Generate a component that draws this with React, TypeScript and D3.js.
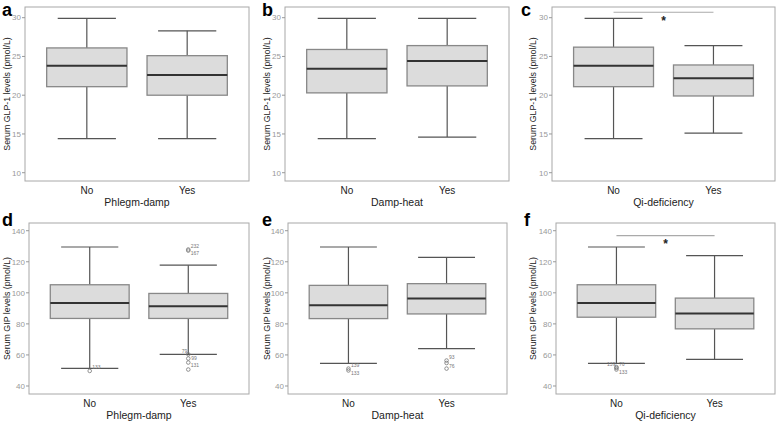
import React from "react";
import * as d3 from "d3";

// ---------- data ----------
const groups = ["No", "Yes"];
// [min, q1, median, q3, max]
const glp1PhlegmDamp = [
  [14.4, 21.1, 23.8, 26.1, 29.9],
  [14.4, 20.0, 22.6, 25.1, 28.3],
];
const glp1DampHeat = [
  [14.4, 20.3, 23.4, 25.9, 29.9],
  [14.6, 21.2, 24.4, 26.4, 29.9],
];
const glp1QiDeficiency = [
  [14.4, 21.1, 23.8, 26.2, 29.9],
  [15.1, 19.9, 22.2, 23.9, 26.4],
];
const gipPhlegmDamp = [
  [51.4, 83.5, 93.4, 105.2, 129.5],
  [60.4, 83.5, 91.4, 99.6, 117.8],
];
const gipDampHeat = [
  [54.6, 83.4, 92.0, 104.8, 129.5],
  [64.0, 86.4, 96.4, 105.9, 122.8],
];
const gipQiDeficiency = [
  [54.6, 84.3, 93.4, 105.2, 129.5],
  [57.2, 76.8, 86.7, 96.6, 123.9],
];

const gipPhlegmDampOutliers = [
  { group: "No", value: 49.7, label: "133", side: "ur" },
  { group: "Yes", value: 127.9, label: "232", side: "ur" },
  { group: "Yes", value: 127.2, label: "167", side: "dr" },
  { group: "Yes", value: 60.4, label: "79", side: "ul" },
  { group: "Yes", value: 57.7, label: "99", side: "r" },
  { group: "Yes", value: 55.1, label: "131", side: "dr" },
  { group: "Yes", value: 50.6, label: "", side: "r" },
];
const gipDampHeatOutliers = [
  { group: "No", value: 51.2, label: "139", side: "ur" },
  { group: "No", value: 50.0, label: "133", side: "dr" },
  { group: "Yes", value: 56.4, label: "93", side: "ur" },
  { group: "Yes", value: 54.8, label: "76", side: "dr" },
  { group: "Yes", value: 51.2, label: "", side: "r" },
];
const gipQiDeficiencyOutliers = [
  { group: "No", value: 52.2, label: "139", side: "ul" },
  { group: "No", value: 51.6, label: "76", side: "ur" },
  { group: "No", value: 50.6, label: "133", side: "dr" },
];

const glpTicks = [10, 15, 20, 25, 30];
const gipTicks = [40, 60, 80, 100, 120, 140];

const glpTitle = "Serum GLP-1 levels (pmol/L)";
const gipTitle = "Serum GIP levels (pmol/L)";

const sigQiGlp = { value: 30.7, starValue: 29.9 };
const sigQiGip = { value: 136.8, starValue: 132.9 };

// ---------- layout ----------
const rows = [
  { top: 7, bottom: 181, domain: [8.93, 31.38], ticks: glpTicks, title: glpTitle, letterY: 15.5 },
  { top: 223, bottom: 394, domain: [34.84, 144.97], ticks: gipTicks, title: gipTitle, letterY: 226 },
];
const frames = [
  [[25, 249], [285, 509], [552, 775]],
  [[29, 249], [288, 507], [556, 775]],
];
const letterX = [
  [2, 262, 521],
  [2, 262, 524],
];
const yLabelX = [7, 266.5, 533];

const panels = [
  { letter: "a", row: 0, col: 0, stats: glp1PhlegmDamp, outliers: [], xTitle: "Phlegm-damp", sig: null },
  { letter: "b", row: 0, col: 1, stats: glp1DampHeat, outliers: [], xTitle: "Damp-heat", sig: null },
  { letter: "c", row: 0, col: 2, stats: glp1QiDeficiency, outliers: [], xTitle: "Qi-deficiency", sig: sigQiGlp },
  { letter: "d", row: 1, col: 0, stats: gipPhlegmDamp, outliers: gipPhlegmDampOutliers, xTitle: "Phlegm-damp", sig: null },
  { letter: "e", row: 1, col: 1, stats: gipDampHeat, outliers: gipDampHeatOutliers, xTitle: "Damp-heat", sig: null },
  { letter: "f", row: 1, col: 2, stats: gipQiDeficiency, outliers: gipQiDeficiencyOutliers, xTitle: "Qi-deficiency", sig: sigQiGip },
];

const FONT = "Arial, 'Liberation Sans', Helvetica, sans-serif";

function Panel({ p }: { p: any }) {
  const r = rows[p.row];
  const [L, R] = frames[p.row][p.col];
  const y = d3.scaleLinear().domain(r.domain).range([r.bottom, r.top]);
  const x = d3.scalePoint().domain(groups).range([L, R]).padding(0.616);
  const step = x.step();
  const boxW = step * 0.8;
  const capW = step * 0.58;
  const midY = (r.top + r.bottom) / 2;

  return (
    <g>
      <text x={letterX[p.row][p.col]} y={r.letterY} fontFamily={FONT} fontWeight="bold" fontSize={18} fill="#000">
        {p.letter}
      </text>
      <rect x={L} y={r.top} width={R - L} height={r.bottom - r.top} fill="#fff" stroke="#a8a8a8" strokeWidth={1} />
      {r.ticks.map((t: number) => (
        <g key={t}>
          <line x1={L - 3} x2={L} y1={y(t)} y2={y(t)} stroke="#999" />
          <text x={L - 4} y={y(t)} dy="0.35em" textAnchor="end" fontFamily={FONT} fontSize={8} fill="#999">
            {t}
          </text>
        </g>
      ))}
      <text
        transform={`translate(${yLabelX[p.col]},${midY}) rotate(-90)`}
        textAnchor="middle"
        dy="0.35em"
        fontFamily={FONT}
        fontSize={8.8}
        fill="#222"
      >
        {r.title}
      </text>
      {groups.map((g, i) => {
        const [mn, q1, med, q3, mx] = p.stats[i];
        const cx = x(g) as number;
        return (
          <g key={g}>
            <line x1={cx} x2={cx} y1={y(mx)} y2={y(q3)} stroke="#555" strokeWidth={1.2} />
            <line x1={cx} x2={cx} y1={y(q1)} y2={y(mn)} stroke="#555" strokeWidth={1.2} />
            <line x1={cx - capW / 2} x2={cx + capW / 2} y1={y(mx)} y2={y(mx)} stroke="#555" strokeWidth={1.2} />
            <line x1={cx - capW / 2} x2={cx + capW / 2} y1={y(mn)} y2={y(mn)} stroke="#555" strokeWidth={1.2} />
            <rect
              x={cx - boxW / 2}
              y={y(q3)}
              width={boxW}
              height={y(q1) - y(q3)}
              fill="#dcdcdc"
              stroke="#888"
              strokeWidth={1.3}
            />
            <line x1={cx - boxW / 2} x2={cx + boxW / 2} y1={y(med)} y2={y(med)} stroke="#333" strokeWidth={2} />
            <text x={cx} y={r.bottom + 12.5} textAnchor="middle" fontFamily={FONT} fontSize={10} fill="#222">
              {g}
            </text>
          </g>
        );
      })}
      {p.outliers.map((o: any, i: number) => {
        const cx = x(o.group) as number;
        const cy = y(o.value);
        let lx = cx + 3;
        let ly = cy - 1;
        let anchor = "start";
        if (o.side === "ur") { lx = cx + 2.5; ly = cy - 2; }
        if (o.side === "dr") { lx = cx + 2.5; ly = cy + 4.5; }
        if (o.side === "r") { lx = cx + 3; ly = cy + 1.5; }
        if (o.side === "ul") { lx = cx - 1; ly = cy - 1.5; anchor = "end"; }
        return (
          <g key={i}>
            <circle cx={cx} cy={cy} r={1.8} fill="none" stroke="#777" strokeWidth={0.8} />
            {o.label && (
              <text x={lx} y={ly} textAnchor={anchor} fontFamily={FONT} fontSize={5} fill="#777">
                {o.label}
              </text>
            )}
          </g>
        );
      })}
      {p.sig && (
        <g>
          <line
            x1={x(groups[0]) as number}
            x2={x(groups[1]) as number}
            y1={y(p.sig.value)}
            y2={y(p.sig.value)}
            stroke="#aaa"
            strokeWidth={1.2}
          />
          <text
            x={((x(groups[0]) as number) + (x(groups[1]) as number)) / 2}
            y={y(p.sig.starValue)}
            dy="0.55em"
            textAnchor="middle"
            fontFamily={FONT}
            fontWeight="bold"
            fontSize={12}
            fill="#222"
          >
            *
          </text>
        </g>
      )}
      <text
        x={(L + R) / 2}
        y={r.bottom + 25}
        textAnchor="middle"
        fontFamily={FONT}
        fontSize={10.5}
        fill="#222"
      >
        {p.xTitle}
      </text>
    </g>
  );
}

export default function App() {
  return (
    <svg
      width={778}
      height={421}
      viewBox="0 0 778 421"
      style={{ position: "absolute", left: 0, top: 0, background: "#fff" }}
    >
      <rect x={0} y={0} width={778} height={421} fill="#fff" />
      {panels.map((p) => (
        <Panel key={p.letter} p={p} />
      ))}
    </svg>
  );
}
